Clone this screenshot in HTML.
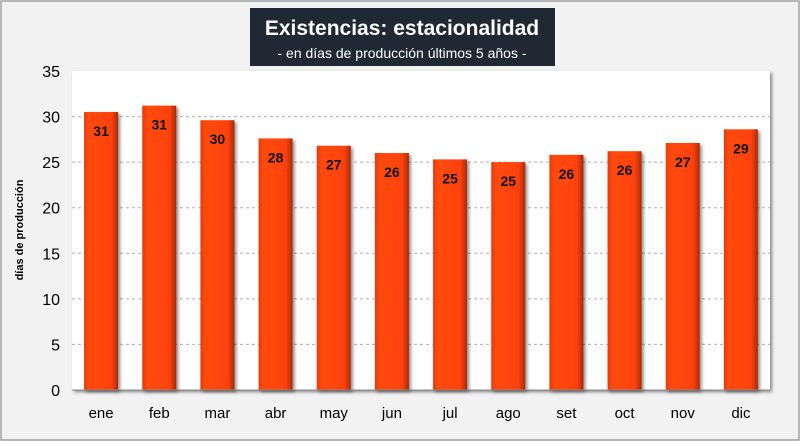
<!DOCTYPE html>
<html><head><meta charset="utf-8"><style>
body{margin:0;width:800px;height:441px;overflow:hidden;background:#fff;font-family:"Liberation Sans",sans-serif}
</style></head><body>
<svg id="chart" width="800" height="441" xmlns="http://www.w3.org/2000/svg">
<defs>
<linearGradient id="barg" x1="0" x2="1" y1="0" y2="0">
<stop offset="0" stop-color="#e83a08"/><stop offset="0.15" stop-color="#ff4a10"/><stop offset="0.8" stop-color="#ff4210"/><stop offset="1" stop-color="#a82a05"/>
</linearGradient>
<filter id="sh" x="-20%" y="-20%" width="140%" height="140%"><feDropShadow dx="2" dy="2" stdDeviation="1.5" flood-color="#000" flood-opacity="0.45"/></filter>
</defs>
<rect x="1" y="1" width="798" height="439" fill="#f2f2f2" stroke="#a0a0a0" stroke-width="1.5"/>
<rect x="72" y="71" width="698" height="319" fill="#fff" filter="url(#sh)"/>
<g id="grid"></g><g id="bars"></g><g id="axes"></g>
<g>
<rect x="250" y="8" width="305" height="58" fill="#1f2833"/>
<text x="402" y="35" text-anchor="middle" fill="#fff" font-size="21" font-weight="bold">Existencias: estacionalidad</text>
<text x="402" y="58" text-anchor="middle" fill="#fff" font-size="14">- en días de producción últimos 5 años -</text>
</g>
<text transform="translate(23,230) rotate(-90)" text-anchor="middle" font-size="11" font-weight="bold">días de producción</text>
</svg>
<script>
const categories=["ene","feb","mar","abr","may","jun","jul","ago","set","oct","nov","dic"];
const values=[30.5,31.2,29.6,27.6,26.8,26.0,25.3,25.0,25.8,26.2,27.1,28.6];
const ticks=[0,5,10,15,20,25,30,35];
const NS="http://www.w3.org/2000/svg";
const L=72,R=770,T=71,B=390,YMAX=35;
const y=v=>B-(v/YMAX)*(B-T);
const bw=(R-L)/categories.length;
const x=i=>L+bw*(i+0.5);
function mk(t,a,p){const e=document.createElementNS(NS,t);for(const k in a)e.setAttribute(k,a[k]);p.appendChild(e);return e;}
const grid=document.getElementById('grid'),bars=document.getElementById('bars'),axes=document.getElementById('axes');
ticks.forEach(t=>{
  if(t>0&&t<YMAX){const g=mk('line',{x1:L,x2:R,y1:y(t),y2:y(t),stroke:'#b0b0b0','stroke-dasharray':'3,3'},grid);
  
  }
  const tx=mk('text',{x:L-12,y:y(t)+6,'text-anchor':'end','font-size':'16'},axes);tx.textContent=t;
  
  
});
categories.forEach((c,i)=>{
  const v=values[i],cx=x(i),top=y(v);
  const r=mk('rect',{x:cx-17,y:top,width:34,height:B-top,fill:'url(#barg)',filter:'url(#sh)'},bars);
  
  
  const lb=mk('text',{x:cx,y:top+24,'text-anchor':'middle','font-size':'14','font-weight':'bold',fill:'#111'},bars);lb.textContent=Math.round(v);
  
  
  const cl=mk('text',{x:cx,y:418,'text-anchor':'middle','font-size':'15'},axes);cl.textContent=c;
  
  
});
const ax=mk('line',{x1:L,x2:R,y1:B,y2:B,stroke:'#888'},axes);


</script>
</body></html>
